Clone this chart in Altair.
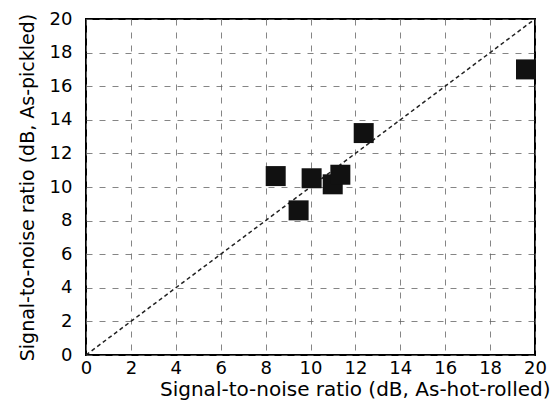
import altair as alt
import pandas as pd

hot_rolled = [8.45, 9.47, 10.05, 10.99, 11.33, 12.37, 19.6]
pickled = [10.65, 8.61, 10.52, 10.16, 10.73, 13.21, 17.0]
diag_x = [0, 20]
diag_y = [0, 20]
tick_values = [0, 2, 4, 6, 8, 10, 12, 14, 16, 18, 20]

df = pd.DataFrame({"x": hot_rolled, "y": pickled})
diag = pd.DataFrame({"x": diag_x, "y": diag_y})

font = "DejaVu Sans"
xs = alt.Scale(domain=[0, 20], nice=False)
ys = alt.Scale(domain=[0, 20], nice=False)

xaxis = alt.Axis(values=tick_values, title="Signal-to-noise ratio (dB, As-hot-rolled)",
                 labelFontSize=18, labelFont=font, labelColor="black", labelPadding=4,
                 labelOverlap=False, labelFlush=False,
                 titleFontSize=20, titleFont=font, titleFontWeight="normal", titleColor="black",
                 titleAnchor="end", titlePadding=2, titleX=464,
                 grid=True, gridDash=[6, 7], gridColor="#666", gridOpacity=0.8,
                 ticks=False, domain=False)
yaxis = alt.Axis(values=tick_values, title="Signal-to-noise ratio (dB, As-pickled)",
                 labelFontSize=18, labelFont=font, labelColor="black", labelPadding=14,
                 labelOverlap=False, labelFlush=False,
                 titleFontSize=19, titleFont=font, titleFontWeight="normal", titleColor="black",
                 titlePadding=12,
                 grid=True, gridDash=[6, 7], gridColor="#666", gridOpacity=0.8,
                 ticks=False, domain=False)

line = alt.Chart(diag).mark_line(color="#222", strokeDash=[4, 3], strokeWidth=1.5).encode(
    x=alt.X("x:Q", scale=xs, axis=xaxis),
    y=alt.Y("y:Q", scale=ys, axis=yaxis),
)
pts = alt.Chart(df).mark_square(size=400, color="#111", opacity=1).encode(
    x=alt.X("x:Q", scale=xs, axis=xaxis),
    y=alt.Y("y:Q", scale=ys, axis=yaxis),
)

chart = (line + pts).properties(
    width=449, height=336,
    autosize=alt.AutoSizeParams(type="none"),
    padding={"left": 86, "top": 19, "right": 15, "bottom": 56},
    background="white",
).configure_view(stroke="black", strokeWidth=2).configure_axis(labelOverlap=False)

chart.save("out.html", embed_options={"renderer": "svg", "actions": False})
